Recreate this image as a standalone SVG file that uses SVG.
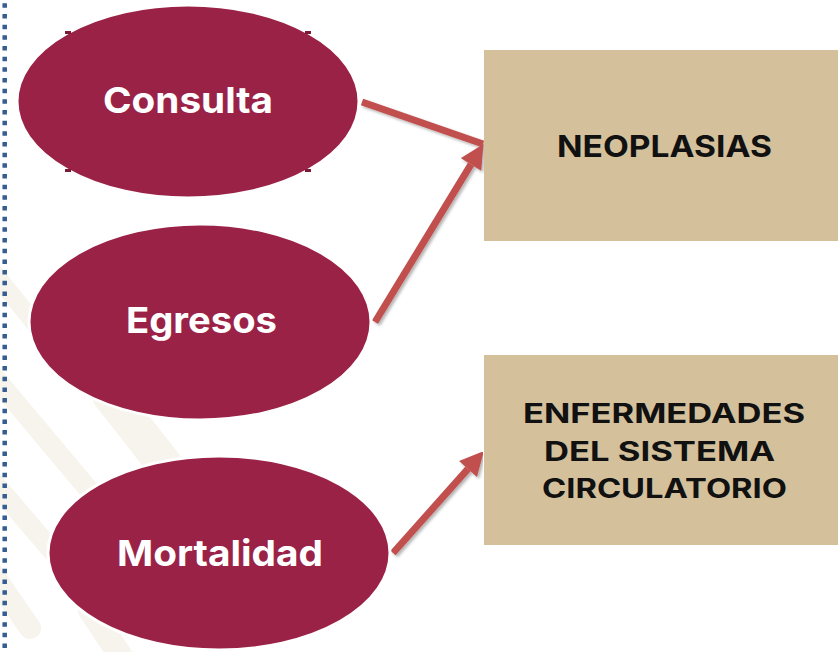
<svg xmlns="http://www.w3.org/2000/svg" width="838" height="652" viewBox="0 0 838 652">
  <defs>
    <style>
      .stripe { stroke: #f7f4ed; fill: none; stroke-linecap: round; }
      .oval { fill: #9b2247; stroke: #ffffff; stroke-width: 3; }
      .tick { fill: #7d1a38; }
      .ovaltxt { font-family: Inter, "Open Sans", "Liberation Sans", sans-serif; font-weight: 700; font-size: 36px; fill: #ffffff; text-anchor: middle; }
      .box { fill: #d4c19c; }
      .boxtxt { font-family: Inter, "Open Sans", "Liberation Sans", sans-serif; font-weight: 700; fill: #111111; text-anchor: middle; }
      .conn { stroke: #c0504d; stroke-width: 7; fill: none; filter: url(#shadow); }
    </style>
    <filter id="shadow" x="-20%" y="-20%" width="140%" height="140%">
      <feDropShadow dx="2" dy="2" stdDeviation="1.5" flood-color="#000000" flood-opacity="0.3"/>
    </filter>
    <marker id="head" viewBox="0 0 10 10" refX="0" refY="5" markerWidth="25" markerHeight="24" markerUnits="userSpaceOnUse" orient="auto">
      <path d="M0,0 L10,5 L0,10 z" fill="#c0504d"/>
    </marker>
  </defs>

  <rect x="0" y="0" width="838" height="652" fill="#ffffff"/>

  <g id="background">
    <line class="stripe" x1="-10" y1="268" x2="40" y2="330" stroke-width="18"/>
    <line class="stripe" x1="-10" y1="372" x2="110" y2="515" stroke-width="20"/>
    <line class="stripe" x1="-10" y1="478" x2="60" y2="560" stroke-width="20"/>
    <line class="stripe" x1="-10" y1="570" x2="30" y2="628" stroke-width="22"/>
    <line class="stripe" x1="110" y1="395" x2="200" y2="510" stroke-width="36"/>
    <line class="stripe" x1="90" y1="610" x2="130" y2="670" stroke-width="24"/>
    <line x1="4.7" y1="3.3" x2="4.7" y2="652" stroke="#355d92" stroke-width="4.5" stroke-dasharray="4.5 6.17"/>
  </g>

  <g id="connectors">
    <line class="conn" x1="362" y1="102" x2="483" y2="144"/>
    <line class="conn" x1="375" y1="322" x2="471" y2="164.4" marker-end="url(#head)"/>
    <line class="conn" x1="393" y1="553" x2="468" y2="468.9" marker-end="url(#head)"/>
  </g>

  <g id="node-consulta">
    <ellipse class="oval" cx="188" cy="101.5" rx="171" ry="96.5"/>
    <rect class="tick" x="65" y="31" width="6" height="3"/>
    <rect class="tick" x="305" y="31" width="6" height="3"/>
    <rect class="tick" x="65" y="169" width="6" height="3"/>
    <rect class="tick" x="305" y="169" width="6" height="3"/>
    <text class="ovaltxt" x="188" y="113" textLength="170" lengthAdjust="spacingAndGlyphs">Consulta</text>
  </g>

  <g id="node-egresos">
    <ellipse class="oval" cx="200" cy="322" rx="171" ry="98"/>
    <text class="ovaltxt" x="201.5" y="333" textLength="151" lengthAdjust="spacingAndGlyphs">Egresos</text>
  </g>

  <g id="node-mortalidad">
    <ellipse class="oval" cx="219" cy="553" rx="171" ry="97"/>
    <text class="ovaltxt" x="220" y="566" textLength="206" lengthAdjust="spacingAndGlyphs">Mortalidad</text>
  </g>

  <g id="node-neoplasias">
    <rect class="box" x="484" y="50" width="354" height="191"/>
    <text class="boxtxt" x="664.5" y="157" font-size="30" textLength="215" lengthAdjust="spacingAndGlyphs">NEOPLASIAS</text>
  </g>

  <g id="node-circulatorio">
    <rect class="box" x="484" y="355" width="354" height="190"/>
    <text class="boxtxt" x="664" y="423" font-size="26.5" textLength="282" lengthAdjust="spacingAndGlyphs">ENFERMEDADES</text>
    <text class="boxtxt" x="659.5" y="461" font-size="26.5" textLength="231" lengthAdjust="spacingAndGlyphs">DEL SISTEMA</text>
    <text class="boxtxt" x="664.5" y="498" font-size="26.5" textLength="245" lengthAdjust="spacingAndGlyphs">CIRCULATORIO</text>
  </g>
</svg>
